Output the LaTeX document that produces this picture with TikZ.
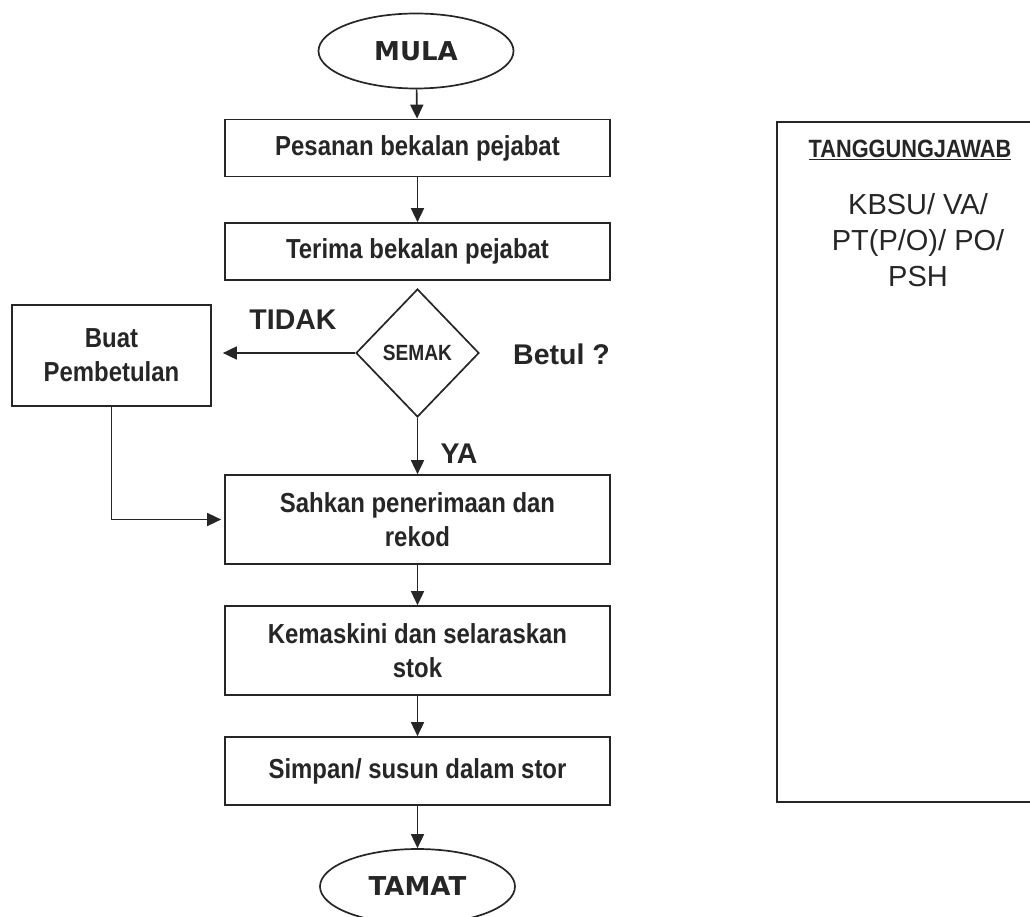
\documentclass[tikz,border=0pt]{standalone}
\usepackage{fontspec}
\setmainfont{Liberation Sans}
\newfontfamily\narrowf[FakeStretch=0.87]{Liberation Sans}
\newfontfamily\heavyf{DejaVu Sans}
\usetikzlibrary{shapes.geometric,arrows.meta}
\definecolor{ink}{HTML}{262626}
\begin{document}
\begin{tikzpicture}[x=1pt,y=-1pt,
  every node/.style={text=ink},
  line/.style={draw=ink,line width=1.7pt},
  arr/.style={line,-{Triangle[length=14pt,width=13pt]}},
  proc/.style={draw=ink,line width=1.7pt,rectangle,minimum width=385pt,align=center,
     font=\narrowf\bfseries\fontsize{27.5}{34}\selectfont,inner sep=0pt},
  term/.style={draw=ink,line width=1.7pt,ellipse,minimum width=195pt,minimum height=75pt,
     inner sep=0pt,font=\heavyf\bfseries\fontsize{26}{30}\selectfont},
  decis/.style={draw=ink,line width=1.7pt,diamond,minimum width=123pt,minimum height=128pt,
     font=\narrowf\bfseries\fontsize{22}{26}\selectfont,inner sep=0pt},
  lbl/.style={font=\bfseries\fontsize{28.5}{32}\selectfont,inner sep=0pt}]
\useasboundingbox (0,0) rectangle (1030,917);
\fill[white] (0,0) rectangle (1030,917);

\node[term] (mula) at (416,51) {MULA};
\node[proc,minimum height=57pt] (b1) at (417.5,148) {Pesanan bekalan pejabat};
\node[proc,minimum height=57pt] (b2) at (417.5,251.5) {Terima bekalan pejabat};
\node[decis] (semak) at (417.5,353) {SEMAK};
\node[proc,minimum width=199pt,minimum height=101pt] (buat) at (111.5,355.5) {Buat\\Pembetulan};
\node[proc,minimum height=89pt] (b3) at (417.5,519.5) {Sahkan penerimaan dan\\rekod};
\node[proc,minimum height=89pt] (b4) at (417.5,650.5) {Kemaskini dan selaraskan\\stok};
\node[proc,minimum height=68pt] (b5) at (417.5,771) {Simpan/ susun dalam stor};
\node[term] (tamat) at (417.5,886.5) {TAMAT};

\node[lbl] (tidak) at (293,320) {TIDAK};
\node[lbl,anchor=west] (betul) at (513,354) {Betul ?};
\node[lbl] (ya) at (459,454) {YA};

\draw[arr] (mula) -- (b1);
\draw[arr] (b1) -- (b2);
\draw[arr,shorten >=11pt] (semak.west) -- (semak.west -| buat.east);
\draw[arr] (semak.south) -- (b3.north);
\draw[arr,shorten >=3pt] (buat.south) |- (b3.west);
\draw[arr] (b3) -- (b4);
\draw[arr] (b4) -- (b5);
\draw[arr] (b5) -- (tamat);

\draw[line] (1045,122) -- (777,122) -- (777,802) -- (1045,802);
\node[font=\narrowf\bfseries\fontsize{25}{30}\selectfont,inner sep=0pt] (tj) at (910,150) {\underline{TANGGUNGJAWAB}};
\node[align=center,font=\fontsize{29}{36}\selectfont,inner sep=0pt] (who) at (918,240) {KBSU/ VA/\\PT(P/O)/ PO/\\PSH};
\end{tikzpicture}
\end{document}
